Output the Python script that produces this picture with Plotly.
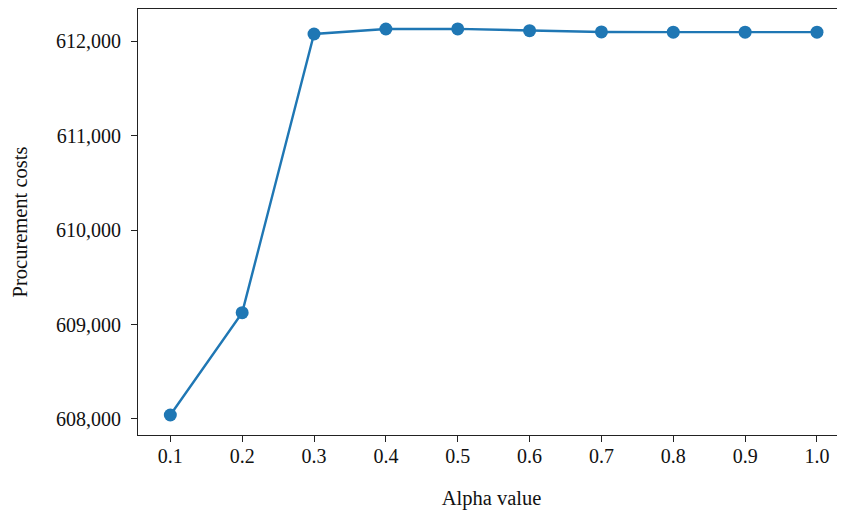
import plotly.graph_objects as go

alpha = [0.1, 0.2, 0.3, 0.4, 0.5, 0.6, 0.7, 0.8, 0.9, 1.0]
costs = [608042, 609126, 612078, 612131, 612132, 612113, 612100, 612098, 612098, 612098]
x_ticks = [0.1, 0.2, 0.3, 0.4, 0.5, 0.6, 0.7, 0.8, 0.9, 1.0]
x_tick_text = ["0.1", "0.2", "0.3", "0.4", "0.5", "0.6", "0.7", "0.8", "0.9", "1.0"]
y_ticks = [608000, 609000, 610000, 611000, 612000]

color = "#1f77b4"
font_family = "Liberation Serif, Times New Roman, serif"

fig = go.Figure()
fig.add_trace(go.Scatter(
    x=alpha, y=costs, mode="lines+markers",
    line=dict(color=color, width=2.4),
    marker=dict(color=color, size=13),
    showlegend=False,
))

axis_common = dict(
    showgrid=False, zeroline=False, showline=True, linecolor="#222222", linewidth=1.2,
    ticks="outside", ticklen=6, tickwidth=1.2, tickcolor="#222222",
    tickfont=dict(family=font_family, size=20, color="#111111"),
)

fig.update_layout(
    width=837, height=507,
    margin=dict(l=130, r=0, t=1, b=80),
    paper_bgcolor="white", plot_bgcolor="white",
    font=dict(family=font_family, color="#111111"),
    xaxis=dict(
        range=[0.055, 1.039], tickvals=x_ticks, ticktext=x_tick_text, mirror=True,
        title=dict(text="Alpha value", font=dict(family=font_family, size=20.5), standoff=24),
        ticklabelstandoff=-3,
        **axis_common,
    ),
    yaxis=dict(
        range=[607830, 612343], tickvals=y_ticks, tickformat=",d",
        title=dict(text="Procurement costs", font=dict(family=font_family, size=20.5), standoff=22),
        ticklabelstandoff=6,
        **axis_common,
    ),
)

fig.write_html("out.html")
